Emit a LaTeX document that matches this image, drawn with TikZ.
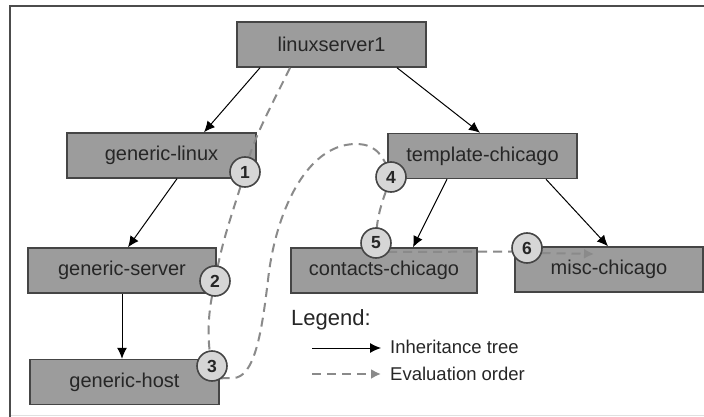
\documentclass[tikz,border=0pt]{standalone}
\usepackage{fontspec}
\setmainfont{Liberation Sans}
\usetikzlibrary{arrows.meta,calc}
\definecolor{boxfill}{HTML}{9C9C9C}
\definecolor{boxedge}{HTML}{454545}
\definecolor{txt}{HTML}{262626}
\definecolor{circfill}{HTML}{D6D6D6}
\definecolor{evalgray}{HTML}{8A8A8A}
\tikzset{
  hostbox/.style={draw=boxedge, line width=1.5pt, fill=boxfill, text=txt,
    minimum height=45pt, inner sep=0pt, font=\fontsize{20}{22}\selectfont},
  orderdot/.style={circle, draw=boxedge, line width=1.6pt, fill=circfill, text=txt,
    minimum size=30pt, inner sep=0pt, font=\bfseries\fontsize{17.5}{18}\selectfont},
  inh/.style={draw=black, line width=1pt, -{Latex[length=11pt,width=10pt]}},
  evalline/.style={draw=evalgray, line width=2pt, dash pattern=on 9pt off 6pt},
  evalarrow/.style={evalline, -{Latex[length=10pt,width=10pt]}},
  legtxt/.style={text=txt, inner sep=0pt, anchor=base west}
}
\begin{document}
\begin{tikzpicture}[x=1pt,y=-1pt]
\useasboundingbox (0,0) rectangle (704,417);
\fill[white] (0,0) rectangle (704,417);
% frame
\draw[draw=black!12, line width=1pt] (10,415) -- (704,415);
\draw[draw=black!70, line width=2pt] (10,417) -- (10,6) -- (704,6);

% boxes
\node[hostbox, minimum width=189pt] (ls) at (331.5,44.5) {linuxserver1};
\node[hostbox, minimum width=189pt] (gl) at (161.5,155.5) {generic-linux};
\node[hostbox, minimum width=189pt] (tc) at (482.5,156) {template-chicago};
\node[hostbox, minimum width=188pt] (gs) at (122,270.5) {generic-server};
\node[hostbox, minimum width=186pt] (cc) at (384,270.5) {contacts-chicago};
\node[hostbox, minimum width=188pt] (mc) at (609,269.5) {misc-chicago};
\node[hostbox, minimum width=189pt] (gh) at (124.5,382) {generic-host};

% inheritance arrows
\draw[inh] ([xshift=-71.5pt]ls.south) -- ([xshift=42.5pt]gl.north);
\draw[inh] ([xshift=65.5pt]ls.south) -- ([xshift=-2.5pt]tc.north);
\draw[inh] ([xshift=15.5pt]gl.south) -- ([xshift=6pt]gs.north);
\draw[inh] (gs.south) -- ([xshift=-2.5pt]gh.north);
\draw[inh] ([xshift=-35.5pt]tc.south) -- ([xshift=29pt]cc.north);
\draw[inh] ([xshift=63.5pt]tc.south) -- ([xshift=-1pt]mc.north);

% order circles (positions)
\coordinate (p1) at (245,172);
\coordinate (p2) at (215,281);
\coordinate (p3) at (212,366);
\coordinate (p4) at (391,177);
\coordinate (p5) at (376,243);
\coordinate (p6) at (527,248);
\coordinate (e0) at ([xshift=-41.5pt]ls.south);
\coordinate (e6) at (594,254);

% evaluation order path
\draw[evalline] (e0) .. controls (272,105) and (252,140) .. (p1);
\draw[evalline] (p1) .. controls (232,215) and (222,240) .. (p2);
\draw[evalline] (p2) .. controls (210,305) and (205,330) .. (p3);
\draw[evalline] (p3) ++(8.6,12.3) -- (233,378)
   .. controls (255,378) and (262,330) .. (268,280)
   .. controls (275,215) and (305,145) .. (355,144)
   .. controls (372,144) and (382,150) .. (p4);
\draw[evalline] (p4) .. controls (383,200) and (376,215) .. (p5);
\draw[evalline] (p5) ++(12,9) -- ([xshift=-14.5pt,yshift=-3.5pt]p6);
\draw[evalarrow] (p6) ++(14.5,5) -- (e6);

% circles
\node[orderdot] (c1) at (p1) {1};
\node[orderdot] (c2) at (p2) {2};
\node[orderdot] (c3) at (p3) {3};
\node[orderdot] (c4) at (p4) {4};
\node[orderdot] (c5) at (p5) {5};
\node[orderdot] (c6) at (p6) {6};

% legend
\node[legtxt, font=\fontsize{22}{24}\selectfont] (lg) at (291,325) {Legend:};
\node[legtxt, font=\fontsize{18.5}{20}\selectfont] (li) at (390,353) {Inheritance tree};
\node[legtxt, font=\fontsize{18.5}{20}\selectfont] (le) at (390,380.5) {Evaluation order};
\coordinate (la0) at (312,348);
\coordinate (la1) at (381,348);
\coordinate (lb0) at (312,374);
\coordinate (lb1) at (381,374);
\draw[inh] (la0) -- (la1);
\draw[evalarrow] (lb0) -- (lb1);
\end{tikzpicture}
\end{document}
